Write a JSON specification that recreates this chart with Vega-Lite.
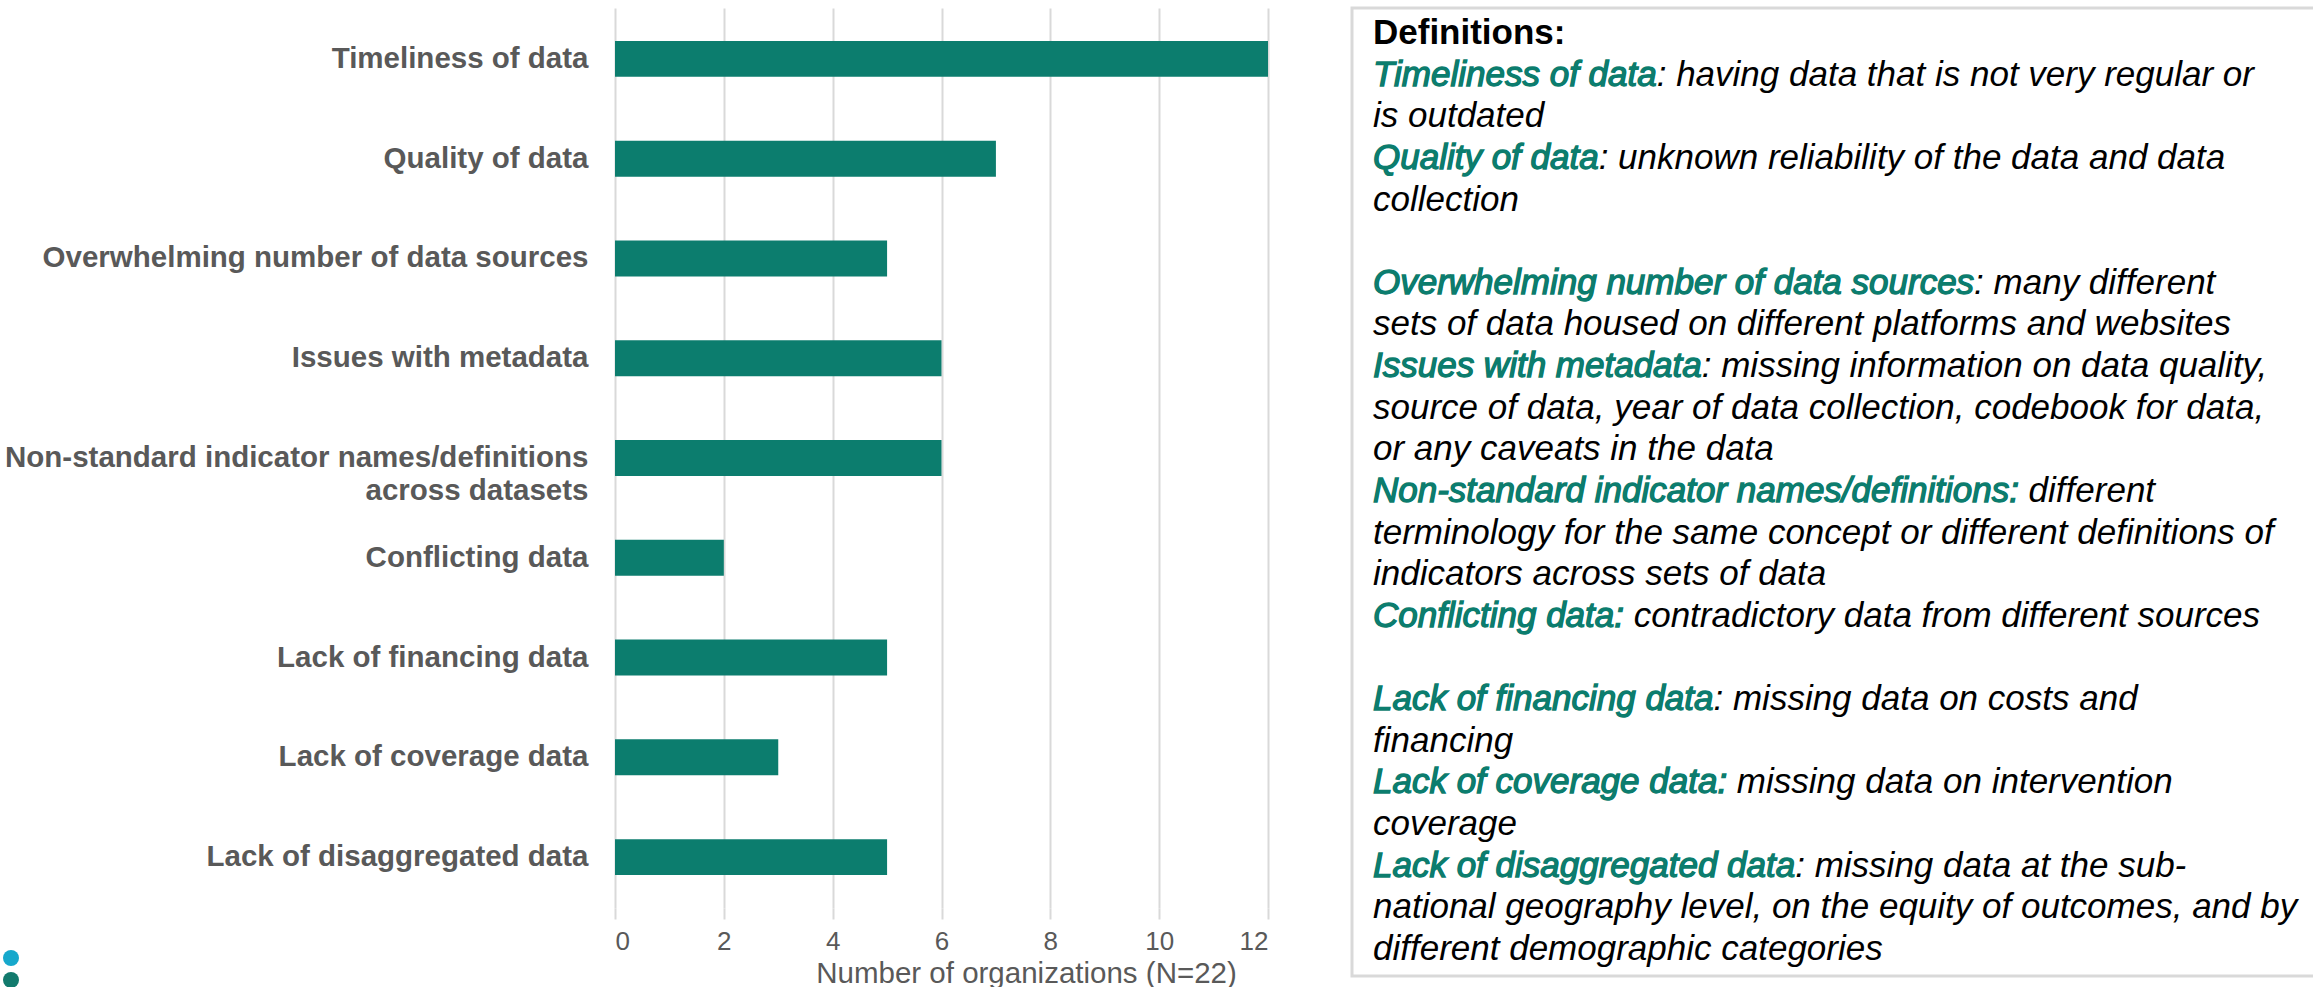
{
  "$schema": "https://vega.github.io/schema/vega-lite/v6.json",
  "padding": {"left": 2, "top": 6, "right": 0, "bottom": 0},
  "config": {"font": "Liberation Sans", "view": {"stroke": null}},
  "spacing": 84,
  "bounds": "flush",
  "datasets": {
    "bars": [
      {"issue": "Timeliness of data", "count": 12},
      {"issue": "Quality of data", "count": 7},
      {"issue": "Overwhelming number of data sources", "count": 5},
      {"issue": "Issues with metadata", "count": 6},
      {"issue": "Non-standard indicator names/definitions across datasets", "count": 6},
      {"issue": "Conflicting data", "count": 2},
      {"issue": "Lack of financing data", "count": 5},
      {"issue": "Lack of coverage data", "count": 3},
      {"issue": "Lack of disaggregated data", "count": 5}
    ],
    "dots": [
      {"k": "a"},
      {"k": "b"}
    ],
    "defs": [
      {"line": 0, "term": "", "text": "Definitions:"},
      {"line": 1, "term": "Timeliness of data", "text": "Timeliness of data: having data that is not very regular or"},
      {"line": 2, "term": "", "text": "is outdated"},
      {"line": 3, "term": "Quality of data", "text": "Quality of data: unknown reliability of the data and data"},
      {"line": 4, "term": "", "text": "collection"},
      {"line": 6, "term": "Overwhelming number of data sources", "text": "Overwhelming number of data sources: many different"},
      {"line": 7, "term": "", "text": "sets of data housed on different platforms and websites"},
      {"line": 8, "term": "Issues with metadata", "text": "Issues with metadata: missing information on data quality,"},
      {"line": 9, "term": "", "text": "source of data, year of data collection, codebook for data,"},
      {"line": 10, "term": "", "text": "or any caveats in the data"},
      {"line": 11, "term": "Non-standard indicator names/definitions:", "text": "Non-standard indicator names/definitions: different"},
      {"line": 12, "term": "", "text": "terminology for the same concept or different definitions of"},
      {"line": 13, "term": "", "text": "indicators across sets of data"},
      {"line": 14, "term": "Conflicting data:", "text": "Conflicting data: contradictory data from different sources"},
      {"line": 16, "term": "Lack of financing data", "text": "Lack of financing data: missing data on costs and"},
      {"line": 17, "term": "", "text": "financing"},
      {"line": 18, "term": "Lack of coverage data:", "text": "Lack of coverage data: missing data on intervention"},
      {"line": 19, "term": "", "text": "coverage"},
      {"line": 20, "term": "Lack of disaggregated data", "text": "Lack of disaggregated data: missing data at the sub-"},
      {"line": 21, "term": "", "text": "national geography level, on the equity of outcomes, and by"},
      {"line": 22, "term": "", "text": "different demographic categories"}
    ]
  },
  "hconcat": [
    {
      "width": 653,
      "height": 900,
      "layer": [
        {
          "data": {"name": "bars"},
          "mark": {"type": "bar", "color": "#0c7d6e"},
          "encoding": {
            "y": {
              "field": "issue",
              "type": "nominal",
              "sort": null,
              "scale": {"paddingInner": 0.64, "paddingOuter": 0.33},
              "axis": {
                "title": null,
                "labelFontSize": 29.5,
                "labelFontWeight": "bold",
                "labelColor": "#595959",
                "labelPadding": 27,
                "ticks": false,
                "domain": false,
                "labelLimit": 1000,
                "labelLineHeight": 33,
                "labelExpr": "datum.value == 'Non-standard indicator names/definitions across datasets' ? ['Non-standard indicator names/definitions\u00a0\u00a0', 'across datasets\u00a0\u00a0\u00a0\u00a0\u00a0\u00a0\u00a0\u00a0\u00a0\u00a0\u00a0\u00a0\u00a0\u00a0\u00a0\u00a0\u00a0\u00a0\u00a0\u00a0\u00a0\u00a0\u00a0\u00a0'] : (indexof(['Overwhelming number of data sources', 'Lack of financing data', 'Lack of disaggregated data'], datum.value) >= 0 ? datum.value + '\u00a0' : datum.value)"
              }
            },
            "x": {
              "field": "count",
              "type": "quantitative",
              "scale": {"domain": [0, 12], "nice": false},
              "axis": {
                "title": "Number of organizations (N=22)",
                "values": [0, 2, 4, 6, 8, 10, 12],
                "grid": true,
                "gridColor": "#d9d9d9",
                "gridWidth": 2,
                "domain": false,
                "tickColor": "#d9d9d9",
                "tickWidth": 2,
                "tickSize": 11,
                "labelFontSize": 26,
                "labelColor": "#595959",
                "labelPadding": 9,
                "titleFontSize": 29.5,
                "titleFontWeight": "normal",
                "titleColor": "#595959",
                "titlePadding": 5,
                "titleX": 411,
                "titleAlign": "center"
              }
            }
          }
        },
        {
          "data": {"name": "dots"},
          "mark": {"type": "point", "filled": true, "opacity": 0, "shape": "circle"},
          "encoding": {
            "fill": {
              "field": "k",
              "type": "nominal",
              "scale": {"range": ["#16a8cc", "#127a6d"]},
              "legend": {
                "orient": "none",
                "legendX": -613,
                "legendY": 941,
                "title": null,
                "padding": 0,
                "labelExpr": "''",
                "labelFontSize": 18,
                "symbolSize": 256,
                "symbolType": "circle",
                "symbolOpacity": 1,
                "symbolStrokeWidth": 0,
                "rowPadding": 4
              }
            }
          }
        }
      ]
    },
    {
      "width": 990,
      "height": 968,
      "view": {"stroke": "#d9d9d9", "strokeWidth": 3},
      "data": {"name": "defs"},
      "encoding": {
        "x": {"datum": 0, "type": "quantitative", "scale": {"domain": [-0.0212, 0.9788]}, "axis": null},
        "y": {"field": "line", "type": "quantitative", "scale": {"domain": [-0.6, 22.65], "reverse": true, "nice": false, "zero": false}, "axis": null}
      },
      "layer": [
        {
          "transform": [{"filter": "datum.line == 0"}],
          "mark": {"type": "text", "align": "left", "baseline": "middle", "fontSize": 35, "fontWeight": "bold", "fill": "#000000"},
          "encoding": {"text": {"field": "text"}}
        },
        {
          "transform": [{"filter": "datum.line > 0"}],
          "mark": {"type": "text", "align": "left", "baseline": "middle", "fontSize": 35, "fontStyle": "italic", "fill": "#000000"},
          "encoding": {"text": {"field": "text"}}
        },
        {
          "transform": [{"filter": "datum.term != ''"}],
          "mark": {"type": "text", "align": "left", "baseline": "middle", "fontSize": 35, "fontStyle": "italic", "fill": "#0c7d6e", "stroke": "#0c7d6e", "strokeWidth": 1.3},
          "encoding": {"text": {"field": "term"}}
        }
      ]
    }
  ]
}
